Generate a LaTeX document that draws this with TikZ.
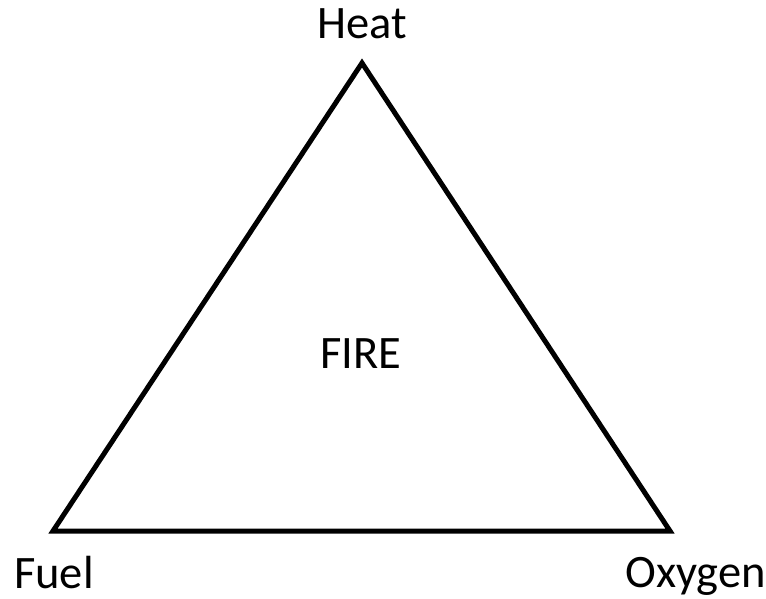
\documentclass[tikz,border=0pt]{standalone}
\usepackage{fontspec}
\setmainfont{Carlito}
\begin{document}
\begin{tikzpicture}[x=1pt,y=-1pt,
  lbl/.style={font=\fontsize{46.5}{54}\selectfont, inner sep=0pt, anchor=base},
  edge/.style={line width=5pt, line join=miter}]
\useasboundingbox (0,0) rectangle (766,599);
\coordinate (top) at (362,63);
\coordinate (bl) at (53,531);
\coordinate (br) at (670,531);
\draw[edge] (top) -- (bl) -- (br) -- cycle;
\node[lbl] (heat) at (362,39) {Heat};
\node[lbl] (fire) at (361,368) {FIRE};
\node[lbl, anchor=base west] (fuel) at (14,588) {Fuel};
\node[lbl, anchor=base east] (oxy) at (766,587) {Oxygen};
\end{tikzpicture}
\end{document}
